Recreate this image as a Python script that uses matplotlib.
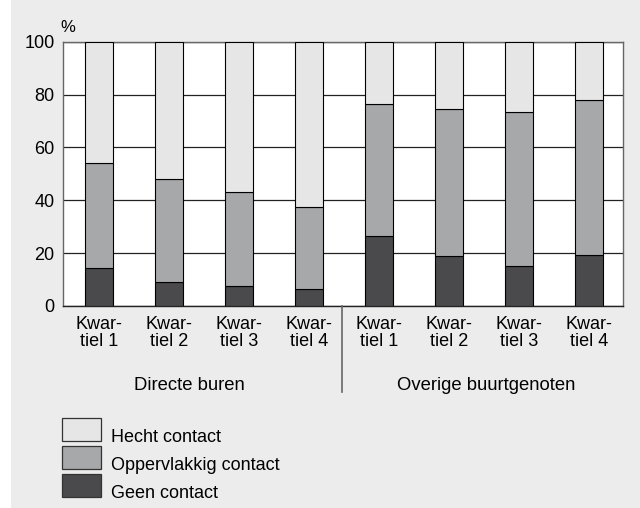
import matplotlib
matplotlib.use("Agg")
import matplotlib.pyplot as plt
import numpy as np
from matplotlib.patches import Rectangle

plt.rcParams["font.family"] = ["Liberation Sans", "DejaVu Sans"]

tick_labels = ["Kwar-\ntiel 1", "Kwar-\ntiel 2", "Kwar-\ntiel 3", "Kwar-\ntiel 4"] * 2
groups = ["Directe buren", "Overige buurtgenoten"]
series = ["Hecht contact", "Oppervlakkig contact", "Geen contact"]

geen = [14.3, 9.0, 7.4, 6.4, 26.5, 19.0, 15.1, 19.3]
opp_top = [54.1, 47.9, 43.1, 37.6, 76.6, 74.7, 73.3, 77.9]
oppervlakkig = [t - g for t, g in zip(opp_top, geen)]
hecht = [100 - t for t in opp_top]

colors = {"Hecht contact": "#e6e6e6", "Oppervlakkig contact": "#a7a8aa", "Geen contact": "#4a4a4c"}
bg = "#ebeceb"
fs = 13


def main():
    fig = plt.figure(figsize=(6.4, 5.08), dpi=100, facecolor=bg)
    # white strip on the left edge
    fig.add_artist(Rectangle((0, 0), 11 / 640, 1, facecolor="white", edgecolor="none"))

    ax = fig.add_axes([63 / 640, 1 - 306 / 508, 560 / 640, 264.3 / 508])
    ax.set_facecolor("white")

    x = np.arange(len(geen))
    w = 0.4
    ax.bar(x, geen, w, color=colors["Geen contact"], edgecolor="black", linewidth=0.8, zorder=3)
    ax.bar(x, oppervlakkig, w, bottom=geen, color=colors["Oppervlakkig contact"],
           edgecolor="black", linewidth=0.8, zorder=3)
    ax.bar(x, hecht, w, bottom=opp_top, color=colors["Hecht contact"],
           edgecolor="black", linewidth=0.8, zorder=3)

    ax.set_xlim(-0.514, 7.486)
    ax.set_ylim(0, 100)
    ax.set_yticks([0, 20, 40, 60, 80, 100])
    ax.yaxis.grid(True, color="#222222", linewidth=0.9, zorder=0)
    ax.set_axisbelow(True)
    for s in ax.spines.values():
        s.set_color("#666666")
        s.set_linewidth(1.0)
    ax.spines["bottom"].set_color("#222222")

    ax.set_xticks(x)
    ax.set_xticklabels(tick_labels, fontsize=fs, linespacing=1.05)
    ax.tick_params(axis="both", length=0, labelsize=fs)
    ax.tick_params(axis="x", pad=7)
    ax.tick_params(axis="y", pad=6)

    fig.text(68 / 640, 1 - 27 / 508, "%", fontsize=fs - 1, ha="center", va="center")

    # group labels and divider
    offsets = [-15, 2]
    for i, g in enumerate(groups):
        cx = (ax.transData.transform((1.5 + 4 * i, 0))[0] + offsets[i]) / 640
        fig.text(cx, 1 - 385 / 508, g, fontsize=fs + 0.3, ha="center", va="center")
    fig.add_artist(plt.Line2D([342 / 640, 342 / 640], [1 - 306 / 508, 1 - 392 / 508],
                              color="#666666", linewidth=1.2))

    # legend
    box_tops = [418, 446, 474]
    for name, yt in zip(series, box_tops):
        fig.add_artist(Rectangle((62 / 640, 1 - (yt + 23) / 508), 39 / 640, 23 / 508,
                                 facecolor=colors[name], edgecolor="#333333", linewidth=0.9))
        fig.text(111 / 640, 1 - (yt + 24) / 508, name, fontsize=fs, ha="left", va="baseline")

    fig.savefig("out.png", dpi=100, facecolor=bg)


if __name__ == "__main__":
    main()
